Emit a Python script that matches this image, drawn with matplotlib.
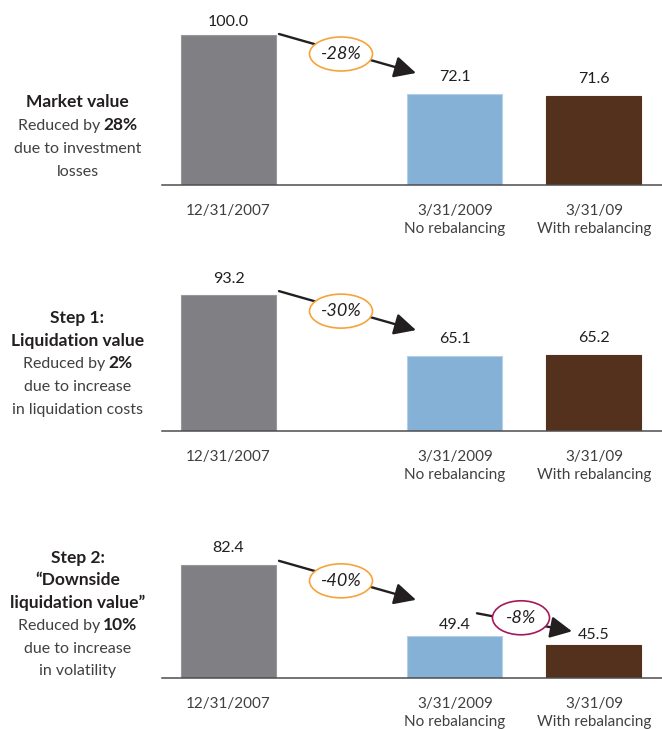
import matplotlib
matplotlib.use('Agg')
import matplotlib.pyplot as plt
import matplotlib.transforms as mtransforms
from matplotlib.patches import Ellipse, FancyArrowPatch, ArrowStyle

plt.rcParams['font.family'] = ['Lato', 'DejaVu Sans']

# ---------------- data ----------------
categories = ['12/31/2007', '3/31/2009\nNo rebalancing', '3/31/09\nWith rebalancing']
market_value = [100.0, 72.1, 71.6]
liquidation_value = [93.2, 65.1, 65.2]
downside_liquidation_value = [82.4, 49.4, 45.5]
panel_values = [market_value, liquidation_value, downside_liquidation_value]
change_labels = ['-28%', '-30%', '-40%']
rebalancing_change_label = '-8%'
panel_titles = [['Market value'], ['Step 1:', 'Liquidation value'],
                ['Step 2:', '\u201cDownside', 'liquidation value\u201d']]
reduction_pcts = ['28%', '2%', '10%']
panel_notes = [['due to investment', 'losses'],
               ['due to increase', 'in liquidation costs'],
               ['due to increase', 'in volatility']]

# ---------------- style / layout ----------------
bar_colors = ['#807f84', '#86b1d6', '#53311c']
bar_edges = ['#98979b', '#b4cfe8', '#53311c']
text_dark = '#231f20'
text_reg = '#404042'
orange = '#f5a43a'
purple = '#a3195b'

W, H, DPI = 662, 729, 100
fig = plt.figure(figsize=(W / DPI, H / DPI), dpi=DPI)
ident = mtransforms.IdentityTransform()

Y_MIN, Y_MAX = 30, 110
PX_PER_UNIT = 2.15
AX_LEFT, AX_WIDTH = 162, 500
baselines = [185, 431, 678]
bar_pos = [0, 2.384, 3.847]
bar_w = 1.0
xlim = (-0.7, 4.563)
label_gaps = [[8, 13, 13], [12, 13, 13], [13, 7, 6]]
start_up = [0.5, 4, 4.5]
text_first_base = [107, 323, 563]
text_spacing = [23, 22.7, 22.4]
TEXT_CX = 77.5

renderer = fig.canvas.get_renderer()


def centered_line(parts, cx, base_y):
    texts, widths = [], []
    for s, wt, sz, col in parts:
        t = fig.text(0, H - base_y, s, transform=ident, fontsize=sz,
                     fontweight=wt, color=col, ha='left', va='baseline')
        texts.append(t)
        widths.append(t.get_window_extent(renderer).width)
    gap = 3.5
    total = sum(widths) + gap * (len(parts) - 1)
    x = cx - total / 2
    for t, w in zip(texts, widths):
        t.set_x(x)
        x += w + gap


def arrow(p0, p1, zorder=5):
    a = FancyArrowPatch(p0, p1, transform=ident,
                        arrowstyle=ArrowStyle('-|>', head_length=1.2, head_width=0.6),
                        mutation_scale=11, color=text_dark, lw=1.7,
                        shrinkA=0, shrinkB=0, zorder=zorder)
    fig.add_artist(a)


def bubble(c, w, h, label, ec):
    e = Ellipse(c, w, h, transform=ident, facecolor='white', edgecolor=ec,
                lw=1.2, zorder=6)
    fig.add_artist(e)
    fig.text(c[0], c[1], label, transform=ident, fontsize=13, style='italic',
             color=text_dark, ha='center', va='center', zorder=7)


for i, vals in enumerate(panel_values):
    hpx = (Y_MAX - Y_MIN) * PX_PER_UNIT
    ax = fig.add_axes([AX_LEFT / W, 1 - baselines[i] / H, AX_WIDTH / W, hpx / H])
    ax.bar(bar_pos, vals, width=bar_w, color=bar_colors, edgecolor=bar_edges,
           linewidth=0.8)
    ax.set_xlim(*xlim)
    ax.set_ylim(Y_MIN, Y_MAX)
    for s in ['top', 'left', 'right']:
        ax.spines[s].set_visible(False)
    ax.spines['bottom'].set_color('#4d4d4f')
    ax.spines['bottom'].set_linewidth(1.1)
    ax.set_yticks([])
    ax.set_xticks(bar_pos, categories)
    ax.tick_params(axis='x', length=0, pad=13.5, labelsize=11, labelcolor=text_reg)
    for lbl in ax.get_xticklabels():
        lbl.set_linespacing(1.4)
        lbl.set_verticalalignment('top')

    for j, v in enumerate(vals):
        ax.annotate(f'{v:.1f}', (bar_pos[j], v),
                    xytext=(0, label_gaps[i][j] * 72 / DPI), textcoords='offset points',
                    ha='center', va='baseline', fontsize=11.5, color=text_dark)

    # main change arrow
    sx, sy = ax.transData.transform((bar_pos[0] + bar_w / 2, vals[0]))
    start = (sx + 3, sy + start_up[i])
    end = (start[0] + 137, start[1] - 39)
    arrow(start, end)
    bubble((start[0] + 62, start[1] - 20), 63, 34, change_labels[i], orange)

    if i == 2:
        bx, by = ax.transData.transform((bar_pos[1], vals[1]))
        s2 = (bx + 22, by + 23)
        e2 = (s2[0] + 95, s2[1] - 18)
        arrow(s2, e2)
        bubble((s2[0] + 44, s2[1] - 4.5), 57, 34, rebalancing_change_label, purple)

    # left-side description
    y = text_first_base[i]
    for line in panel_titles[i]:
        centered_line([(line, 'bold', 12.5, text_dark)], TEXT_CX, y)
        y += text_spacing[i]
    centered_line([('Reduced by', 'normal', 11.5, text_reg),
                   (reduction_pcts[i], 'bold', 12.5, text_dark)], TEXT_CX, y)
    y += text_spacing[i]
    for line in panel_notes[i]:
        centered_line([(line, 'normal', 11.5, text_reg)], TEXT_CX, y)
        y += text_spacing[i]

fig.savefig('out.png', dpi=DPI)
